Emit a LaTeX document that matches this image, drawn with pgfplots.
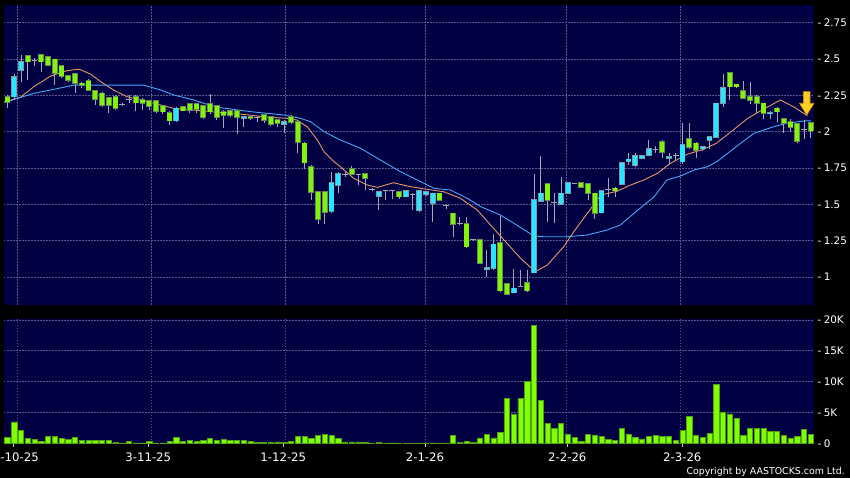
\documentclass[border=0pt]{standalone}
\usepackage{pgfplots}
\pgfplotsset{compat=1.18}
\usepackage{pgfplotstable}
\usepackage{fontspec}
\setmainfont{DejaVu Sans}
\definecolor{navybg}{RGB}{0,0,66}
\definecolor{gridc}{RGB}{88,88,140}
\definecolor{wickc}{RGB}{165,165,175}
\definecolor{greenfill}{RGB}{128,245,10}
\definecolor{greenedge}{RGB}{100,140,80}
\definecolor{cyanfill}{RGB}{40,230,255}
\definecolor{cyanedge}{RGB}{130,150,165}
\definecolor{volfill}{RGB}{128,255,0}
\definecolor{voledge}{RGB}{80,160,20}
\definecolor{maorange}{RGB}{232,150,105}
\definecolor{mablue}{RGB}{70,170,245}
\definecolor{tickc}{RGB}{200,200,200}
\definecolor{arrowfill}{RGB}{255,205,40}
\definecolor{arrowedge}{RGB}{210,140,0}
\newcommand\yl[1]{-\hspace{2.3pt}#1}
% falling days (close below open)
\pgfplotstableread{
i O H L C
0 2.241 2.25 2.161 2.206
3 2.521 2.53 2.356 2.482
5 2.528 2.535 2.413 2.482
6 2.516 2.52 2.45 2.459
7 2.498 2.50 2.32 2.402
8 2.454 2.46 2.37 2.383
9 2.383 2.39 2.34 2.356
10 2.397 2.40 2.264 2.333
11 2.333 2.34 2.30 2.319
12 2.351 2.36 2.28 2.287
13 2.282 2.29 2.184 2.223
14 2.264 2.27 2.17 2.184
15 2.23 2.24 2.128 2.184
16 2.241 2.25 2.15 2.161
19 2.241 2.25 2.14 2.20
20 2.218 2.23 2.15 2.195
21 2.213 2.22 2.15 2.177
22 2.213 2.22 2.13 2.142
23 2.177 2.18 2.12 2.138
24 2.131 2.14 2.046 2.076
26 2.168 2.17 2.14 2.145
27 2.19 2.20 2.13 2.15
28 2.19 2.20 2.13 2.154
29 2.177 2.18 2.09 2.099
30 2.19 2.26 2.12 2.138
31 2.177 2.18 2.08 2.099
32 2.138 2.15 2.025 2.115
33 2.145 2.15 2.10 2.115
34 2.145 2.15 1.984 2.099
36 2.10 2.11 2.08 2.092
38 2.115 2.12 2.06 2.08
39 2.103 2.11 2.04 2.053
40 2.08 2.09 2.03 2.06
42 2.10 2.115 2.05 2.067
43 2.069 2.08 1.851 1.931
44 1.92 1.93 1.743 1.787
45 1.759 1.77 1.53 1.587
46 1.587 1.59 1.365 1.397
47 1.587 1.59 1.365 1.449
51 1.743 1.764 1.70 1.707
53 1.707 1.71 1.60 1.68
58 1.587 1.59 1.54 1.553
64 1.576 1.58 1.52 1.53
66 1.438 1.44 1.275 1.365
68 1.365 1.415 1.20 1.209
70 1.255 1.26 1.09 1.098
73 1.232 1.42 0.90 0.906
74 0.952 0.96 0.88 0.883
77 0.96 1.05 0.90 0.906
80 1.64 1.645 1.38 1.53
85 1.645 1.65 1.61 1.617
86 1.638 1.64 1.53 1.576
87 1.576 1.58 1.40 1.438
90 1.61 1.62 1.55 1.594
97 1.931 1.94 1.82 1.858
101 1.948 2.06 1.88 1.893
102 1.92 1.93 1.817 1.874
107 2.402 2.41 2.218 2.31
108 2.326 2.33 2.30 2.31
109 2.282 2.35 2.23 2.23
110 2.241 2.34 2.19 2.218
111 2.241 2.25 2.128 2.195
112 2.195 2.20 2.09 2.127
114 2.161 2.17 2.07 2.138
115 2.087 2.09 1.99 2.058
116 2.069 2.09 2.00 2.03
117 2.051 2.06 1.92 1.936
119 2.062 2.07 1.96 2.007
}\candlesdown
% rising days (close above open)
\pgfplotstableread{
i O H L C
1 2.241 2.40 2.22 2.379
2 2.425 2.528 2.344 2.482
25 2.076 2.17 2.07 2.161
35 2.092 2.11 2.03 2.10
41 2.053 2.08 1.99 2.07
48 1.456 1.72 1.44 1.645
49 1.633 1.72 1.578 1.707
55 1.557 1.59 1.461 1.587
59 1.553 1.60 1.55 1.594
61 1.461 1.60 1.45 1.594
62 1.571 1.59 1.56 1.587
63 1.507 1.58 1.38 1.576
71 1.055 1.186 1.002 1.065
72 1.06 1.296 1.05 1.225
75 0.892 1.055 0.89 0.922
78 1.03 1.71 1.03 1.53
79 1.525 1.833 1.52 1.576
82 1.502 1.69 1.50 1.576
83 1.576 1.65 1.57 1.645
88 1.443 1.60 1.44 1.594
91 1.64 1.79 1.63 1.787
92 1.796 1.85 1.77 1.81
93 1.771 1.85 1.76 1.833
94 1.817 1.84 1.81 1.833
95 1.84 1.94 1.83 1.879
98 1.817 1.85 1.78 1.828
100 1.794 2.06 1.78 1.908
103 1.883 1.90 1.87 1.893
104 1.943 1.97 1.88 1.966
105 1.962 2.20 1.96 2.195
106 2.195 2.40 2.17 2.303
113 2.127 2.14 2.09 2.131
}\candlesup
% unchanged days (close equals open)
\pgfplotstableread{
i O H L C
4 2.493 2.51 2.45 2.493
17 2.19 2.20 2.18 2.19
18 2.223 2.25 2.20 2.223
37 2.10 2.11 2.07 2.10
50 1.707 1.73 1.69 1.707
52 1.707 1.71 1.633 1.707
54 1.60 1.61 1.59 1.60
56 1.594 1.60 1.53 1.594
57 1.594 1.60 1.535 1.594
60 1.57 1.58 1.461 1.57
65 1.495 1.50 1.47 1.495
67 1.365 1.415 1.36 1.365
69 1.255 1.26 1.25 1.255
76 0.933 1.05 0.93 0.933
81 1.511 1.576 1.37 1.511
84 1.645 1.65 1.64 1.645
89 1.604 1.68 1.55 1.604
96 1.879 1.90 1.85 1.879
99 1.833 1.85 1.80 1.833
118 2.012 2.08 1.95 2.012
}\candlesflat
\pgfplotstableread{
i v
0 0.97
1 3.5
2 2.16
3 0.8
4 0.65
5 0.4
6 1.2
7 1.2
8 0.8
9 0.65
10 1.0
11 0.5
12 0.45
13 0.5
14 0.5
15 0.5
16 0.15
17 0.02
18 0.3
19 0.1
20 0.1
21 0.3
22 0.1
23 0.1
24 0.3
25 0.97
26 0.4
27 0.5
28 0.4
29 0.5
30 0.85
31 0.55
32 0.65
33 0.45
34 0.55
35 0.55
36 0.4
37 0.15
38 0.15
39 0.15
40 0.25
41 0.15
42 0.3
43 1.2
44 1.2
45 0.85
46 1.3
47 1.45
48 1.3
49 0.8
50 0.25
51 0.25
52 0.25
53 0.15
54 0.02
55 0.15
56 0.02
57 0.1
58 0.05
59 0.05
60 0.05
61 0.05
62 0.05
63 0.1
64 0.05
65 0.02
66 1.3
67 0.2
68 0.4
69 0.2
70 0.9
71 1.45
72 0.9
73 1.8
74 7.3
75 4.8
76 7.3
77 10.0
78 19.1
79 7.0
80 3.3
81 2.4
82 3.2
83 1.5
84 1.0
85 0.4
86 1.45
87 1.4
88 1.2
89 0.65
90 0.45
91 2.5
92 1.55
93 0.95
94 0.75
95 1.1
96 1.25
97 1.1
98 1.1
99 0.55
100 2.15
101 4.4
102 1.3
103 1.0
104 1.6
105 9.5
106 5.1
107 4.8
108 4.1
109 1.3
110 2.4
111 2.4
112 2.4
113 2.0
114 2.0
115 1.3
116 0.9
117 1.2
118 2.25
119 1.5
}\volume
\pgfplotsset{
  wick/.style={draw=none, fill=none, mark=none, forget plot,
    error bars/.cd, y dir=plus, y explicit, error mark=none,
    error bar style={draw=wickc, line width=1pt, solid}},
  body/.style 2 args={draw=none, fill=none, mark=none, forget plot,
    error bars/.cd, y dir=plus, y explicit, error mark=none,
    error bar style={draw=#1, line width=#2, solid}},
}
\begin{document}
\begin{tikzpicture}[x=1pt,y=1pt]
\fill[black] (0,0) rectangle (850,478);
\useasboundingbox (0,0) rectangle (850,478);
% ---------------- price panel ----------------
\begin{axis}[
  at={(4pt,173pt)}, anchor=south west,
  scale only axis, width=810pt, height=300pt,
  xmin=-0.5185, xmax=119.4815, ymin=0.8073, ymax=2.872,
  axis background/.style={fill=navybg},
  axis line style={draw=none},
  major tick length=0pt, tick style={draw=none},
  xtick={1.45,21.36,41.21,61.9,82.84,99.73}, xticklabels={},
  ytick={1,1.25,1.5,1.75,2,2.25,2.5,2.75},
  yticklabels={\yl{1},\yl{1.25},\yl{1.5},\yl{1.75},\yl{2},\yl{2.25},\yl{2.5},\yl{2.75}},
  yticklabel pos=right,
  yticklabel style={font=\fontsize{10.4}{12}\selectfont, text=white, anchor=west, inner sep=0pt, xshift=3.5pt},
  grid=major, grid style={draw=gridc, dash pattern=on 1.5pt off 1.5pt, line width=0.7pt},
]
\addplot[draw=maorange, line width=0.9pt, no marks] coordinates {
(-0.45,2.206) (1.9,2.236) (3.9,2.31) (6.4,2.383) (8.8,2.42) (10.6,2.43) (12.3,2.397) (13.8,2.344) (15.7,2.287) (17.7,2.241) (19.7,2.218) (22.7,2.184) (24.6,2.161) (27.6,2.149) (31.6,2.131) (33.5,2.127) (38.5,2.1) (41.4,2.092) (42.9,2.08) (44.4,2.034) (45.9,1.943) (46.9,1.862) (48.1,1.805) (49.3,1.759) (51.3,1.679) (53.3,1.633) (54.8,1.617) (56,1.633) (57.2,1.649) (59.2,1.626) (61.2,1.61) (64.6,1.587) (67.1,1.542) (69.6,1.461) (72,1.335) (74,1.232) (76,1.129) (78.2,1.037) (80,1.083) (82.4,1.209) (83.9,1.312) (85.9,1.438) (87.9,1.564) (90.3,1.59) (92.3,1.633) (94.3,1.668) (96.3,1.714) (98.2,1.782) (100.7,1.845) (103.2,1.88) (105,1.92) (107.2,2.0) (109.6,2.09) (112,2.155) (114.5,2.218) (116.5,2.17) (118.5,2.11)
};
\addplot[draw=mablue, line width=0.9pt, no marks] coordinates {
(-0.45,2.20) (0.7,2.218) (3.9,2.264) (6.9,2.292) (9.8,2.32) (20.2,2.32) (22.7,2.287) (24.6,2.253) (27.6,2.218) (30.1,2.18) (31.6,2.165) (36,2.138) (40.9,2.115) (43.4,2.092) (44.9,2.069) (46.9,2.0) (49.3,1.943) (52.3,1.886) (54.8,1.817) (58.2,1.725) (61.2,1.656) (63.2,1.61) (65.6,1.599) (68.1,1.542) (70.1,1.484) (73,1.427) (75,1.37) (78,1.282) (79.5,1.277) (82.9,1.277) (85.9,1.289) (88.8,1.323) (90.8,1.358) (92.8,1.438) (95.8,1.553) (97.7,1.668) (99.7,1.695) (101.7,1.736) (103.7,1.759) (105.1,1.794) (108.6,1.92) (110.6,1.989) (113.5,2.034) (115.5,2.058) (118,2.074) (119,2.074)
};
% wicks
\addplot[wick] table[x=i, y=L, y error plus expr=\thisrow{H}-\thisrow{L}] {\candlesdown};
\addplot[wick] table[x=i, y=L, y error plus expr=\thisrow{H}-\thisrow{L}] {\candlesup};
\addplot[wick] table[x=i, y=L, y error plus expr=\thisrow{H}-\thisrow{L}] {\candlesflat};
% falling bodies
\addplot[body={greenedge}{5.8pt}] table[x=i, y expr=\thisrow{C}-0.0055, y error plus expr=\thisrow{O}-\thisrow{C}+0.011] {\candlesdown};
\addplot[body={greenfill}{4.2pt}] table[x=i, y=C, y error plus expr=\thisrow{O}-\thisrow{C}] {\candlesdown};
% rising bodies
\addplot[body={cyanedge}{5.8pt}] table[x=i, y expr=\thisrow{O}-0.0055, y error plus expr=\thisrow{C}-\thisrow{O}+0.011] {\candlesup};
\addplot[body={cyanfill}{4.2pt}] table[x=i, y=O, y error plus expr=\thisrow{C}-\thisrow{O}] {\candlesup};
% unchanged days
\addplot[body={wickc}{5.8pt}] table[x=i, y expr=\thisrow{O}-0.0035, y error plus expr=0.007] {\candlesflat};
% arrow marker
\draw[draw=arrowedge, fill=arrowfill, line width=0.6pt]
  (axis cs:118.4,2.115) -- ++(-7.3pt,11.7pt) -- ++(4pt,0pt) -- ++(0pt,11.6pt)
  -- ++(6.6pt,0pt) -- ++(0pt,-11.6pt) -- ++(4pt,0pt) -- cycle;
\end{axis}
% ---------------- volume panel ----------------
\begin{axis}[
  at={(4pt,34.5pt)}, anchor=south west,
  scale only axis, width=810pt, height=124pt,
  xmin=-0.5185, xmax=119.4815, ymin=0, ymax=20.065,
  axis background/.style={fill=navybg},
  axis line style={draw=none},
  xtick={0.86,20.86,40.86,61.85,82.93,99.97},
  xticklabels={\hspace*{12.6pt}-10-25,3-11-25,1-12-25,2-1-26,2-2-26,2-3-26},
  xtick pos=bottom, tick align=outside, major tick length=3.5pt,
  tick style={draw=tickc, line width=0.8pt},
  xticklabel style={font=\fontsize{11.7}{13}\selectfont, text=white, inner sep=0pt, yshift=-5.5pt},
  ytick=\empty,
  extra y ticks={0,5,10,15,20},
  extra y tick labels={\yl{0},\yl{5K},\yl{10K},\yl{15K},\yl{20K}},
  extra y tick style={grid=major, major tick length=0pt},
  yticklabel pos=right,
  yticklabel style={font=\fontsize{10.4}{12}\selectfont, text=white, anchor=west, inner sep=0pt, xshift=3.5pt},
  extra x ticks={1.45,21.36,41.21,61.9,82.84,99.73}, extra x tick labels={},
  extra x tick style={grid=major, major tick length=0pt},
  grid style={draw=gridc, dash pattern=on 1.5pt off 1.5pt, line width=0.7pt},
]
\addplot[ybar, bar width=5.4pt, bar shift=0pt, fill=volfill, draw=voledge, line width=0.6pt] table[x=i, y=v] {\volume};
\end{axis}
\node[anchor=base east, text=white, font=\fontsize{9.4}{11}\selectfont, inner sep=0pt] at (845,3.5) {Copyright by AASTOCKS.com Ltd.};
\end{tikzpicture}
\end{document}
